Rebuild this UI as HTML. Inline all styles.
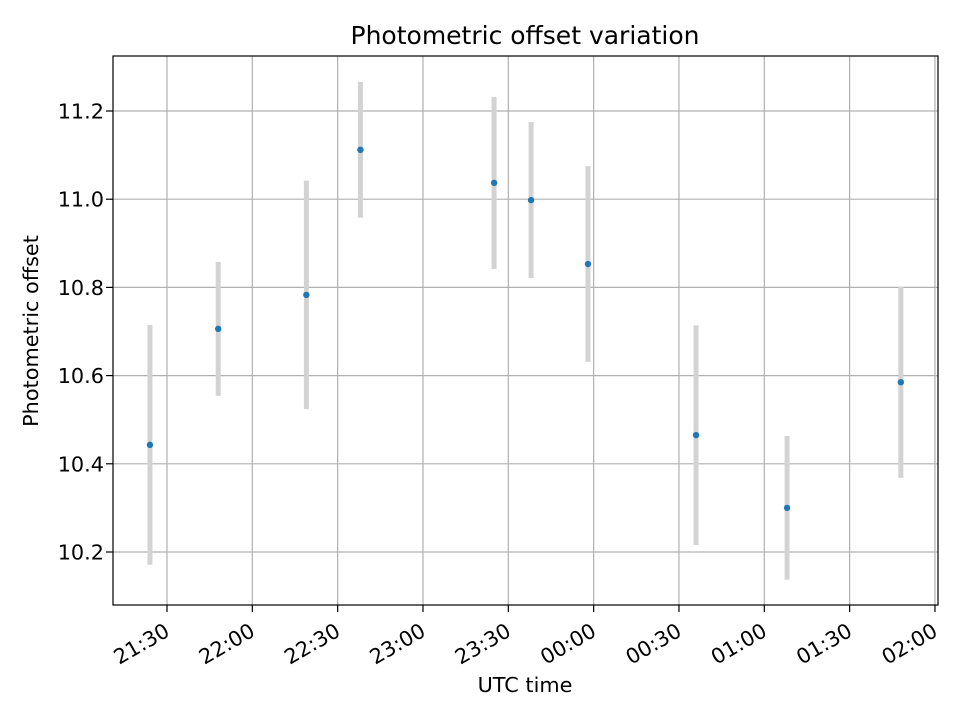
<!DOCTYPE html>
<html><head><meta charset="utf-8"><style>
body{margin:0;background:#fff;}
svg text{font-family:"DejaVu Sans","Liberation Sans",sans-serif;fill:#000;}
</style></head><body>
<svg id="chart" width="960" height="720" xmlns="http://www.w3.org/2000/svg">
<rect width="960" height="720" fill="#fff"/>
<text x="525" y="44" font-size="25" text-anchor="middle">Photometric offset variation</text>
<g id="grid"></g>
<g id="ticks"></g>
<g id="marks"></g>
<rect x="113" y="56" width="825" height="549" fill="none" stroke="#000" stroke-width="1.2"/>
<text x="525" y="692" font-size="20.8" text-anchor="middle">UTC time</text>
<text transform="translate(38,331) rotate(-90)" font-size="20.8" text-anchor="middle">Photometric offset</text>
</svg>
<script>
const times = ["21:24","21:48","22:19","22:38","23:25","23:38","23:58","00:36","01:08","01:48"];
const offsets = [10.443,10.706,10.783,11.112,11.037,10.998,10.853,10.465,10.300,10.585];
const errors = [0.272,0.152,0.259,0.154,0.195,0.177,0.222,0.249,0.163,0.217];
const xTickLabels = ["21:30","22:00","22:30","23:00","23:30","00:00","00:30","01:00","01:30","02:00"];
const yTickValues = [10.2,10.4,10.6,10.8,11.0,11.2];

const NS="http://www.w3.org/2000/svg";
function mins(t){let [h,m]=t.split(":").map(Number); if(h<12)h+=24; return (h-21)*60+m;}
function xS(t){return 167+(mins(t)-30)*(85.33/30);}
function yS(v){return 552-(v-10.2)*441;}
function mk(tag,attrs,parent){const e=document.createElementNS(NS,tag);for(const k in attrs)e.setAttribute(k,attrs[k]);parent.appendChild(e);return e;}
const grid=document.getElementById('grid'),ticks=document.getElementById('ticks'),marks=document.getElementById('marks');

xTickLabels.forEach(l=>{
  const x=xS(l);
  const g=mk('line',{x1:x,x2:x,y1:56,y2:605,stroke:'#b0b0b0','stroke-width':1.2},grid);
  
  
  const t=mk('line',{x1:x,x2:x,y1:605,y2:612,stroke:'#000','stroke-width':1.2},ticks);
  
  
  const tx=mk('text',{transform:`translate(${x+4},635) rotate(-30)`,'font-size':20.8,'text-anchor':'end'},ticks);
  tx.textContent=l;
  
  
});
yTickValues.forEach(v=>{
  const y=yS(v);
  const g=mk('line',{x1:113,x2:938,y1:y,y2:y,stroke:'#b0b0b0','stroke-width':1.2},grid);
  
  
  const t=mk('line',{x1:106,x2:113,y1:y,y2:y,stroke:'#000','stroke-width':1.2},ticks);
  
  
  const tx=mk('text',{x:104,y:y+7.5,'font-size':20.8,'text-anchor':'end'},ticks);
  tx.textContent=v.toFixed(1);
  
  
});
times.forEach((t,i)=>{
  const x=xS(t);
  const e=mk('line',{x1:x,x2:x,y1:yS(offsets[i]+errors[i]),y2:yS(offsets[i]-errors[i]),stroke:'#d3d3d3','stroke-width':5},marks);
  
  
  const c=mk('circle',{cx:x,cy:yS(offsets[i]),r:3.2,fill:'#1f77b4'},marks);
  
  
});
</script>
</body></html>
